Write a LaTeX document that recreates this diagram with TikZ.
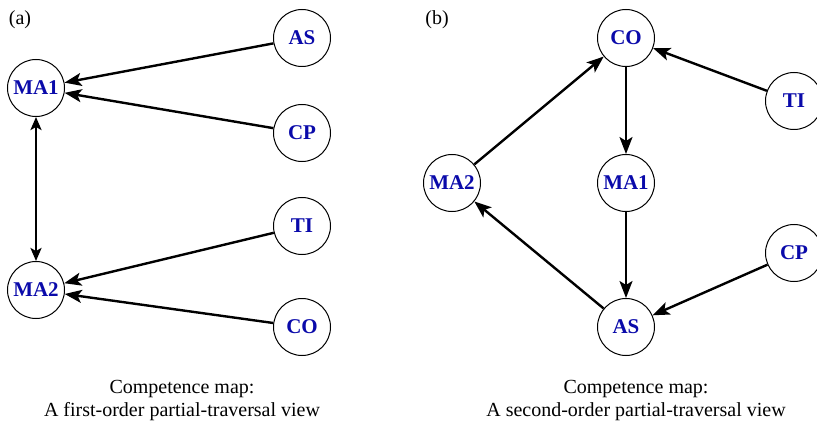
\documentclass[tikz,border=0pt]{standalone}
\usepackage{fontspec}
\setmainfont{Liberation Serif}
\usetikzlibrary{arrows.meta}
\definecolor{lblue}{RGB}{10,10,170}
\tikzset{
  comp/.style={circle, draw, line width=1pt, minimum size=57pt, inner sep=0pt,
    font=\fontsize{21}{23}\selectfont\bfseries, text=lblue},
  link/.style={line width=2.4pt, -{Stealth[length=17pt,width=13pt,inset=4pt]}},
  blink/.style={line width=2.4pt, {Stealth[length=13pt,width=11pt,inset=3pt]}-{Stealth[length=13pt,width=11pt,inset=3pt]}},
  captext/.style={align=center, font=\fontsize{20}{23}\selectfont},
  tag/.style={font=\fontsize{20}{22}\selectfont}
}
\begin{document}
\begin{tikzpicture}[x=1pt,y=-1pt]
\useasboundingbox (0,0) rectangle (817,425);
% panel (a)
\node[tag] (ta) at (20,20) {(a)};
\node[comp] (a1) at (36,88) {MA1};
\node[comp] (a2) at (36,290) {MA2};
\node[comp] (aas) at (302,38) {AS};
\node[comp] (acp) at (302,133) {CP};
\node[comp] (ati) at (302,226) {TI};
\node[comp] (aco) at (302,327) {CO};
\draw[link] (aas) -- (a1);
\draw[link] (acp) -- (a1);
\draw[link] (ati) -- (a2);
\draw[link] (aco) -- (a2);
\draw[blink] (a1) -- (a2);
\node[captext] (ca) at (182,401) {Competence map:\\A first-order partial-traversal view};
% panel (b)
\node[tag] (tb) at (437,20) {(b)};
\node[comp] (bco) at (626,38) {CO};
\node[comp] (b1) at (626,183) {MA1};
\node[comp] (bas) at (626,327) {AS};
\node[comp] (b2) at (452,183) {MA2};
\node[comp] (bti) at (794,101) {TI};
\node[comp] (bcp) at (794,253) {CP};
\draw[link] (b2) -- (bco);
\draw[link] (bti) -- (bco);
\draw[link] (bco) -- (b1);
\draw[link] (b1) -- (bas);
\draw[link] (bcp) -- (bas);
\draw[link] (bas) -- (b2);
\node[captext] (cb) at (636,401) {Competence map:\\A second-order partial-traversal view};
\end{tikzpicture}
\end{document}
